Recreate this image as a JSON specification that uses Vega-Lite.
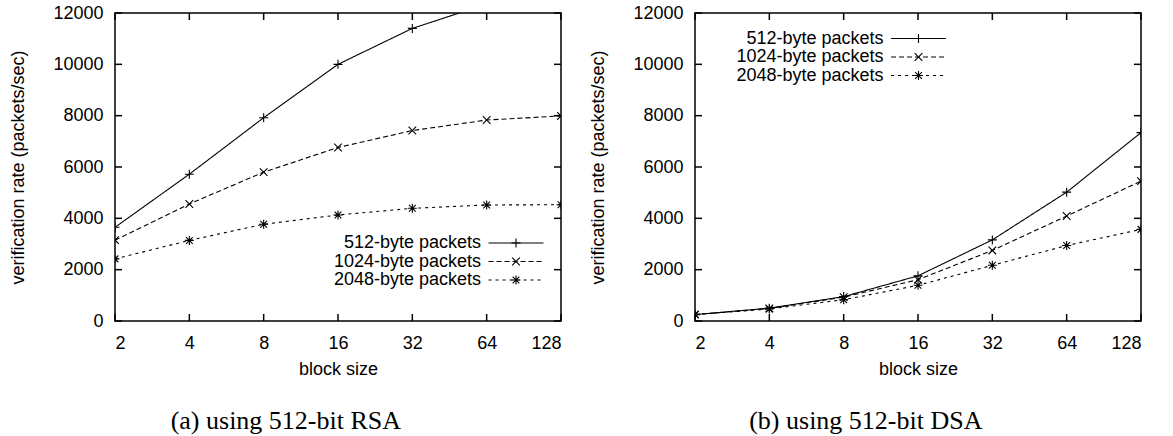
{
  "$schema": "https://vega.github.io/schema/vega-lite/v6.json",
  "padding": {"left": 9, "top": 3, "right": 0, "bottom": 0},
  "background": "white",
  "datasets": {
    "rsa": [
      {"series": "512-byte packets", "block": 2, "rate": 3650},
      {"series": "512-byte packets", "block": 4, "rate": 5720},
      {"series": "512-byte packets", "block": 8, "rate": 7920},
      {"series": "512-byte packets", "block": 16, "rate": 10000},
      {"series": "512-byte packets", "block": 32, "rate": 11400},
      {"series": "512-byte packets", "block": 64, "rate": 12350},
      {"series": "512-byte packets", "block": 128, "rate": 12650},
      {"series": "1024-byte packets", "block": 2, "rate": 3150},
      {"series": "1024-byte packets", "block": 4, "rate": 4560},
      {"series": "1024-byte packets", "block": 8, "rate": 5800},
      {"series": "1024-byte packets", "block": 16, "rate": 6760},
      {"series": "1024-byte packets", "block": 32, "rate": 7420},
      {"series": "1024-byte packets", "block": 64, "rate": 7830},
      {"series": "1024-byte packets", "block": 128, "rate": 7990},
      {"series": "2048-byte packets", "block": 2, "rate": 2420},
      {"series": "2048-byte packets", "block": 4, "rate": 3140},
      {"series": "2048-byte packets", "block": 8, "rate": 3770},
      {"series": "2048-byte packets", "block": 16, "rate": 4130},
      {"series": "2048-byte packets", "block": 32, "rate": 4390},
      {"series": "2048-byte packets", "block": 64, "rate": 4520},
      {"series": "2048-byte packets", "block": 128, "rate": 4530}
    ],
    "dsa": [
      {"series": "512-byte packets", "block": 2, "rate": 250},
      {"series": "512-byte packets", "block": 4, "rate": 500},
      {"series": "512-byte packets", "block": 8, "rate": 950},
      {"series": "512-byte packets", "block": 16, "rate": 1760},
      {"series": "512-byte packets", "block": 32, "rate": 3160},
      {"series": "512-byte packets", "block": 64, "rate": 5020},
      {"series": "512-byte packets", "block": 128, "rate": 7340},
      {"series": "1024-byte packets", "block": 2, "rate": 250},
      {"series": "1024-byte packets", "block": 4, "rate": 490},
      {"series": "1024-byte packets", "block": 8, "rate": 930},
      {"series": "1024-byte packets", "block": 16, "rate": 1610},
      {"series": "1024-byte packets", "block": 32, "rate": 2750},
      {"series": "1024-byte packets", "block": 64, "rate": 4090},
      {"series": "1024-byte packets", "block": 128, "rate": 5450},
      {"series": "2048-byte packets", "block": 2, "rate": 250},
      {"series": "2048-byte packets", "block": 4, "rate": 470},
      {"series": "2048-byte packets", "block": 8, "rate": 830},
      {"series": "2048-byte packets", "block": 16, "rate": 1390},
      {"series": "2048-byte packets", "block": 32, "rate": 2170},
      {"series": "2048-byte packets", "block": 64, "rate": 2940},
      {"series": "2048-byte packets", "block": 128, "rate": 3570}
    ],
    "xticks": [{"block": 2}, {"block": 4}, {"block": 8}, {"block": 16}, {"block": 32}, {"block": 64}, {"block": 128}],
    "yticks": [{"rate": 0}, {"rate": 2000}, {"rate": 4000}, {"rate": 6000}, {"rate": 8000}, {"rate": 10000}, {"rate": 12000}]
  },
  "config": {
    "font": "Liberation Sans",
    "view": {"stroke": "black", "strokeWidth": 1.5},
    "axis": {
      "grid": false,
      "domain": false,
      "ticks": false,
      "labelFont": "Liberation Sans",
      "labelFontSize": 18,
      "labelColor": "black",
      "titleFont": "Liberation Sans",
      "titleFontSize": 18,
      "titleFontWeight": "normal",
      "titleColor": "black"
    },
    "legend": {
      "labelFont": "Liberation Sans",
      "labelFontSize": 18,
      "labelColor": "black",
      "padding": 0,
      "rowPadding": 0.5
    },
    "tick": {"color": "black", "thickness": 1.5, "size": 7, "opacity": 1},
    "title": {"font": "Liberation Serif", "fontSize": 26, "fontWeight": "normal", "color": "black"}
  },
  "hconcat": [
    {
      "width": 446,
      "height": 308,
      "title": {"text": "(a) using 512-bit RSA", "orient": "bottom", "anchor": "middle", "frame": "bounds", "offset": 30},
      "data": {"name": "rsa"},
      "layer": [
        {
          "mark": {"type": "line", "clip": true, "color": "black", "strokeWidth": 1.1},
          "encoding": {
            "x": {"field": "block", "type": "quantitative", "scale": {"type": "log", "base": 2, "domain": [2, 128]},
                  "axis": {"values": [2, 4, 8, 16, 32, 64, 128], "format": "d", "title": "block size", "labelPadding": 13, "titlePadding": 8}},
            "y": {"field": "rate", "type": "quantitative", "scale": {"domain": [0, 12000], "nice": false},
                  "axis": {"values": [0, 2000, 4000, 6000, 8000, 10000, 12000], "format": "d", "title": "verification rate (packets/sec)", "labelPadding": 12, "titlePadding": 25}},
            "strokeDash": {"field": "series", "type": "nominal",
                  "scale": {"domain": ["512-byte packets", "1024-byte packets", "2048-byte packets"], "range": [[1, 0], [5, 3], [3, 4]]},
                  "legend": {"orient": "none", "legendX": 392, "legendY": 221, "title": null, "labelAlign": "right", "labelOffset": -44,
                             "symbolType": "M-6.1,0H6.1", "symbolSize": 81, "symbolStrokeColor": "black", "symbolStrokeWidth": 1.1, "symbolFillColor": "transparent"}}
          }
        },
        {
          "mark": {"type": "point", "clip": true, "filled": false, "color": "black", "strokeWidth": 1.1, "size": 81, "opacity": 1},
          "encoding": {
            "x": {"field": "block", "type": "quantitative", "axis": null},
            "y": {"field": "rate", "type": "quantitative", "axis": null},
            "shape": {"field": "series", "type": "nominal", "sort": ["512-byte packets", "1024-byte packets", "2048-byte packets"],
                  "scale": {"range": ["M-1,0H1M0,-1V1", "M-0.85,-0.85L0.85,0.85M-0.85,0.85L0.85,-0.85", "M-1,0H1M0,-1V1M-0.75,-0.75L0.75,0.75M-0.75,0.75L0.75,-0.75"]},
                  "legend": {"orient": "none", "legendX": 392, "legendY": 221, "title": null, "labelAlign": "right", "labelOffset": -44, "labelOpacity": 0,
                             "symbolSize": 81, "symbolStrokeColor": "black", "symbolStrokeWidth": 1.1, "symbolFillColor": "transparent"}}
          }
        },
        {
          "data": {"name": "xticks"},
          "mark": {"type": "tick", "orient": "vertical", "yOffset": -3.5},
          "encoding": {
            "x": {"field": "block", "type": "quantitative", "axis": null},
            "y": {"datum": 0, "type": "quantitative", "axis": null}
          }
        },
        {
          "data": {"name": "xticks"},
          "mark": {"type": "tick", "orient": "vertical", "yOffset": 3.5},
          "encoding": {
            "x": {"field": "block", "type": "quantitative", "axis": null},
            "y": {"datum": 12000, "type": "quantitative", "axis": null}
          }
        },
        {
          "data": {"name": "yticks"},
          "mark": {"type": "tick", "orient": "horizontal", "xOffset": 3.5},
          "encoding": {
            "y": {"field": "rate", "type": "quantitative", "axis": null},
            "x": {"datum": 2, "type": "quantitative", "axis": null}
          }
        },
        {
          "data": {"name": "yticks"},
          "mark": {"type": "tick", "orient": "horizontal", "xOffset": -3.5},
          "encoding": {
            "y": {"field": "rate", "type": "quantitative", "axis": null},
            "x": {"datum": 128, "type": "quantitative", "axis": null}
          }
        }
      ],
      "resolve": {"axis": {"x": "independent", "y": "independent"}}
    },
    {
      "width": 446,
      "height": 308,
      "title": {"text": "(b) using 512-bit DSA", "orient": "bottom", "anchor": "middle", "frame": "bounds", "offset": 30},
      "data": {"name": "dsa"},
      "layer": [
        {
          "mark": {"type": "line", "clip": true, "color": "black", "strokeWidth": 1.1},
          "encoding": {
            "x": {"field": "block", "type": "quantitative", "scale": {"type": "log", "base": 2, "domain": [2, 128]},
                  "axis": {"values": [2, 4, 8, 16, 32, 64, 128], "format": "d", "title": "block size", "labelPadding": 13, "titlePadding": 8}},
            "y": {"field": "rate", "type": "quantitative", "scale": {"domain": [0, 12000], "nice": false},
                  "axis": {"values": [0, 2000, 4000, 6000, 8000, 10000, 12000], "format": "d", "title": "verification rate (packets/sec)", "labelPadding": 12, "titlePadding": 25}},
            "strokeDash": {"field": "series", "type": "nominal",
                  "scale": {"domain": ["512-byte packets", "1024-byte packets", "2048-byte packets"], "range": [[1, 0], [5, 3], [3, 4]]},
                  "legend": {"orient": "none", "legendX": 214.5, "legendY": 16.5, "title": null, "labelAlign": "right", "labelOffset": -44,
                             "symbolType": "M-6.1,0H6.1", "symbolSize": 81, "symbolStrokeColor": "black", "symbolStrokeWidth": 1.1, "symbolFillColor": "transparent"}}
          }
        },
        {
          "mark": {"type": "point", "clip": true, "filled": false, "color": "black", "strokeWidth": 1.1, "size": 81, "opacity": 1},
          "encoding": {
            "x": {"field": "block", "type": "quantitative", "axis": null},
            "y": {"field": "rate", "type": "quantitative", "axis": null},
            "shape": {"field": "series", "type": "nominal", "sort": ["512-byte packets", "1024-byte packets", "2048-byte packets"],
                  "scale": {"range": ["M-1,0H1M0,-1V1", "M-0.85,-0.85L0.85,0.85M-0.85,0.85L0.85,-0.85", "M-1,0H1M0,-1V1M-0.75,-0.75L0.75,0.75M-0.75,0.75L0.75,-0.75"]},
                  "legend": {"orient": "none", "legendX": 214.5, "legendY": 16.5, "title": null, "labelAlign": "right", "labelOffset": -44, "labelOpacity": 0,
                             "symbolSize": 81, "symbolStrokeColor": "black", "symbolStrokeWidth": 1.1, "symbolFillColor": "transparent"}}
          }
        },
        {
          "data": {"name": "xticks"},
          "mark": {"type": "tick", "orient": "vertical", "yOffset": -3.5},
          "encoding": {
            "x": {"field": "block", "type": "quantitative", "axis": null},
            "y": {"datum": 0, "type": "quantitative", "axis": null}
          }
        },
        {
          "data": {"name": "xticks"},
          "mark": {"type": "tick", "orient": "vertical", "yOffset": 3.5},
          "encoding": {
            "x": {"field": "block", "type": "quantitative", "axis": null},
            "y": {"datum": 12000, "type": "quantitative", "axis": null}
          }
        },
        {
          "data": {"name": "yticks"},
          "mark": {"type": "tick", "orient": "horizontal", "xOffset": 3.5},
          "encoding": {
            "y": {"field": "rate", "type": "quantitative", "axis": null},
            "x": {"datum": 2, "type": "quantitative", "axis": null}
          }
        },
        {
          "data": {"name": "yticks"},
          "mark": {"type": "tick", "orient": "horizontal", "xOffset": -3.5},
          "encoding": {
            "y": {"field": "rate", "type": "quantitative", "axis": null},
            "x": {"datum": 128, "type": "quantitative", "axis": null}
          }
        }
      ],
      "resolve": {"axis": {"x": "independent", "y": "independent"}}
    }
  ],
  "spacing": 26,
  "resolve": {"legend": {"strokeDash": "independent", "shape": "independent"}}
}
